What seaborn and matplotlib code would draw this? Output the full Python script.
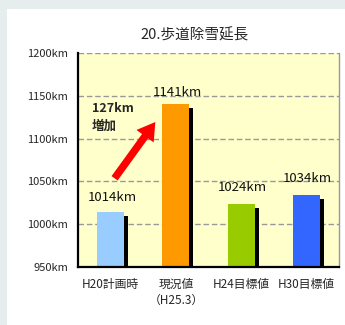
import matplotlib
matplotlib.use("Agg")
import matplotlib.pyplot as plt
import matplotlib.patheffects as pe
from matplotlib.patches import Rectangle, FancyArrowPatch
import seaborn as sns
import pandas as pd

categories = ["H20計画時", "現況値\n（H25.3）", "H24目標値", "H30目標値"]
values = [1014, 1141, 1024, 1034]
value_labels = ["1014km", "1141km", "1024km", "1034km"]
colors = ["#99ccff", "#ff9900", "#99cc00", "#3366ff"]
yticks = [950, 1000, 1050, 1100, 1150, 1200]
ytick_labels = ["950km", "1000km", "1050km", "1100km", "1150km", "1200km"]
title = "20.歩道除雪延長"
increase_text = "127km\n増加"

sns.set_style("white")
plt.rcParams["font.family"] = ["Noto Sans CJK JP", "DejaVu Sans"]

fig = plt.figure(figsize=(3.45, 3.25), dpi=100)
fig.patch.set_facecolor("#e6eeed")
fig.add_artist(Rectangle((7 / 345, 0), 1, 1 - 9 / 325, transform=fig.transFigure,
                         facecolor="white", edgecolor="none", zorder=0))

ax = fig.add_axes([78 / 345, 1 - 267 / 325, (339 - 78) / 345, (267 - 53) / 325])
ax.set_facecolor("#ffffcc")

df = pd.DataFrame({"cat": categories, "val": values})
sns.barplot(data=df, x="cat", y="val", hue="cat", palette=colors, width=0.41,
            legend=False, ax=ax, saturation=1, zorder=3)
for p in ax.patches:
    p.set_path_effects([pe.SimplePatchShadow(offset=(3, -3), shadow_rgbFace="black", alpha=1),
                        pe.Normal()])
    p.set_edgecolor("none")

ax.set_ylim(950, 1200)
ax.set_xlim(-0.5, 3.5)
ax.set_yticks(yticks)
ax.set_yticklabels(ytick_labels, fontsize=8)
ax.set_xticks(range(len(categories)))
ax.set_xticklabels(categories, fontsize=8.5, linespacing=1.25)
ax.set_xticks([0.5, 1.5, 2.5], minor=True)
ax.tick_params(axis="x", which="major", length=0, pad=8)
ax.tick_params(axis="x", which="minor", direction="in", length=4, width=1, color="black")
ax.tick_params(axis="y", which="major", direction="out", length=3, width=1, color="black", pad=4)
ax.set_xlabel("")
ax.set_ylabel("")

ax.yaxis.grid(True, linestyle=(0, (4, 2)), color="#999999", linewidth=1, zorder=1)
ax.set_axisbelow(True)
for s in ["left", "bottom"]:
    ax.spines[s].set_color("black")
    ax.spines[s].set_linewidth(1.6)
    ax.spines[s].set_zorder(5)
ax.spines["top"].set_visible(False)
ax.spines["right"].set_color("#999999")
ax.spines["right"].set_linewidth(1)

offsets = [6, 3, 7, 7]
for i, (v, lab) in enumerate(zip(values, value_labels)):
    ax.annotate(lab, (i, v), xytext=(1, offsets[i]), textcoords="offset points",
                ha="center", va="bottom", fontsize=9.5, color="#111111", zorder=6)

ax.text(-0.285, 1125, increase_text, fontsize=9, fontweight="bold", ha="left", va="center",
        linespacing=1.5, zorder=6)
arrow = FancyArrowPatch((0.036, 1051), (0.71, 1122),
                        arrowstyle="simple,head_width=1.7,head_length=1.4,tail_width=0.6",
                        mutation_scale=9, color="#ff0000", linewidth=0, zorder=7)
ax.add_patch(arrow)

fig.text(195 / 345, 1 - 35 / 325, title, fontsize=10.5, ha="center", va="center")

fig.savefig("out.png", dpi=100, facecolor=fig.get_facecolor())
